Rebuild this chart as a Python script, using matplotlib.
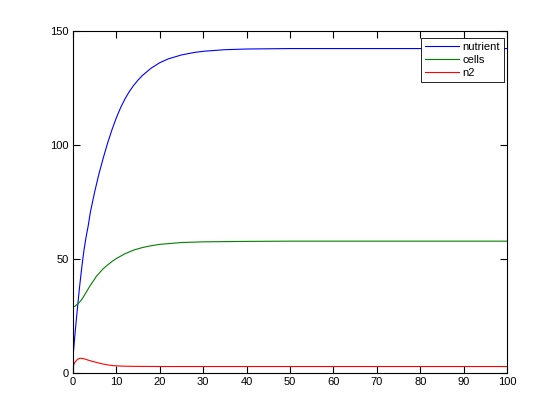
import matplotlib
matplotlib.use("Agg")
import matplotlib.pyplot as plt

plt.rcParams['font.family'] = ['Liberation Sans', 'DejaVu Sans']

# time points and series values
t_nutrient = [0, 0.5, 1, 1.5, 2, 2.5, 3, 3.5, 4, 5, 6, 7, 8, 9, 10, 11, 12, 13, 14, 15,
              16, 18, 20, 22, 25, 28, 30, 35, 40, 50, 60, 80, 100]
nutrient = [7, 18, 28, 37.5, 46, 53.5, 59.5, 64.5, 70.5, 79.5, 87.5, 94.5, 101, 106.8, 112,
            116.5, 120.3, 123.5, 126.2, 128.5, 130.5, 133.7, 136.1, 137.8, 139.5, 140.6,
            141.1, 141.8, 142.1, 142.3, 142.3, 142.3, 142.3]

t_cells = [0, 0.5, 1, 1.5, 2, 2.7, 3.85, 5.4, 6.9, 8, 9, 10, 12, 14, 16, 18, 20,
           25, 30, 40, 50, 100]
cells = [29, 29.3, 30.2, 31, 32.2, 34.3, 38, 42.4, 45.6, 47.4, 48.9, 50.2, 52.3, 53.9, 55.0,
         55.8, 56.4, 57.2, 57.5, 57.7, 57.8, 57.8]

t_n2 = [0, 0.4, 1, 1.5, 2, 2.7, 3.5, 4.6, 5.8, 6.9, 8, 9.2, 10, 11, 13, 16, 20, 30, 50, 100]
n2 = [2.6, 4.6, 5.9, 6.4, 6.4, 6.1, 5.6, 5.0, 4.4, 3.9, 3.5, 3.2, 3.1, 3.0, 2.9, 2.85, 2.8,
      2.8, 2.8, 2.8]

series_labels = ['nutrient', 'cells', 'n2']
x_ticks = [0, 10, 20, 30, 40, 50, 60, 70, 80, 90, 100]
y_ticks = [0, 50, 100, 150]

fig = plt.figure(figsize=(5.59, 4.19), dpi=100)
ax = fig.add_axes([0.1306, 0.11, 0.7764, 0.816])

ax.plot(t_nutrient, nutrient, color=(0, 0, 1), lw=0.8, label=series_labels[0])
ax.plot(t_cells, cells, color=(0, 0.5, 0), lw=0.8, label=series_labels[1])
ax.plot(t_n2, n2, color=(1, 0, 0), lw=0.8, label=series_labels[2])

ax.set_xlim(0, 100)
ax.set_ylim(0, 150)
ax.set_xticks(x_ticks)
ax.set_yticks(y_ticks)
ax.tick_params(direction='in', top=True, right=True, length=5, width=0.8,
               labelsize=8, pad=3)
for s in ax.spines.values():
    s.set_linewidth(0.8)

leg = ax.legend(loc='upper right', bbox_to_anchor=(0.993, 0.980), borderaxespad=0,
                fontsize=8, fancybox=False, framealpha=1, edgecolor='black',
                handlelength=3.0, handletextpad=0.3, labelspacing=0.25,
                borderpad=0.4)
leg.get_frame().set_linewidth(0.6)

fig.savefig('out.png', dpi=100, facecolor='white')
